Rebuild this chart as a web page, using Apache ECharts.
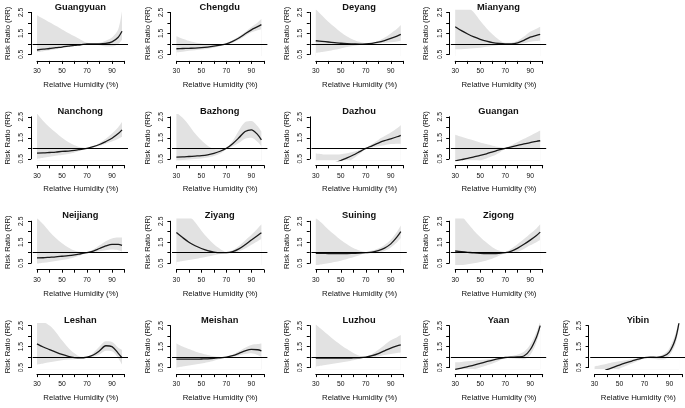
<!DOCTYPE html>
<html><head><meta charset="utf-8">
<script src="https://cdn.jsdelivr.net/npm/echarts@6/dist/echarts.min.js"></script>
<style>html,body{margin:0;padding:0;background:#fff}#c{width:685px;height:408px}</style>
</head><body><div id="c"></div>
<script>
// Relative humidity (%) sample points
const humidity = [30,35,40,45,50,55,60,65,70,75,80,85,90,95,98];
const xTickLabels = [30,50,70,90];
const yTickLabels = [0.5,1.5,2.5];
const xAxisTitle = 'Relative Humidity (%)';
const yAxisTitle = 'Risk Ratio (RR)';

const guangyuanRR   = [0.71,0.75,0.78,0.82,0.85,0.89,0.93,0.96,1.0,1.0,1.0,1.02,1.1,1.32,1.6];
const guangyuanLow  = [0.6,0.65,0.7,0.75,0.8,0.85,0.9,0.95,0.98,0.97,0.93,0.88,0.88,1.0,1.2];
const guangyuanHigh = [2.37,2.2,2.03,1.86,1.69,1.52,1.36,1.2,1.05,1.02,1.05,1.15,1.3,1.7,2.55];

const chengduRR   = [0.77,0.78,0.79,0.8,0.82,0.85,0.89,0.94,1.0,1.12,1.28,1.48,1.67,1.82,1.92];
const chengduLow  = [0.6,0.63,0.67,0.7,0.73,0.77,0.82,0.9,0.98,1.06,1.2,1.38,1.55,1.65,1.7];
const chengduHigh = [1.37,1.25,1.15,1.07,1.02,0.98,0.97,0.98,1.02,1.18,1.36,1.57,1.8,2.02,2.18];

const deyangRR   = [1.15,1.12,1.09,1.06,1.03,1.01,1.0,0.99,1.0,1.03,1.08,1.16,1.26,1.37,1.45];
const deyangLow  = [0.58,0.62,0.66,0.72,0.78,0.85,0.9,0.95,0.97,0.99,1.02,1.05,1.08,1.12,1.15];
const deyangHigh = [2.65,2.35,2.05,1.8,1.55,1.35,1.2,1.1,1.04,1.06,1.14,1.3,1.5,1.72,1.9];

const mianyangRR   = [1.82,1.63,1.47,1.33,1.22,1.13,1.06,1.02,1.0,1.0,1.05,1.17,1.32,1.41,1.45];
const mianyangLow  = [0.74,0.75,0.77,0.79,0.82,0.86,0.9,0.95,0.98,0.97,0.98,1.03,1.1,1.14,1.15];
const mianyangHigh = [2.7,2.7,2.7,2.5,2.1,1.75,1.45,1.2,1.05,1.06,1.15,1.35,1.58,1.72,1.82];

const nanchongRR   = [0.77,0.78,0.8,0.82,0.85,0.87,0.9,0.95,1.0,1.08,1.18,1.32,1.48,1.7,1.88];
const nanchongLow  = [0.5,0.55,0.6,0.65,0.68,0.73,0.8,0.9,0.98,1.05,1.12,1.22,1.32,1.45,1.55];
const nanchongHigh = [2.65,2.3,2.0,1.75,1.5,1.3,1.15,1.05,1.01,1.1,1.25,1.45,1.7,2.0,2.25];

const bazhongRR   = [0.58,0.59,0.61,0.63,0.65,0.69,0.76,0.86,1.0,1.22,1.5,1.8,1.88,1.65,1.4];
const bazhongLow  = [0.42,0.44,0.47,0.49,0.52,0.56,0.63,0.75,0.96,1.1,1.25,1.45,1.5,1.3,1.1];
const bazhongHigh = [2.7,2.45,2.1,1.7,1.38,1.12,0.97,0.95,1.04,1.35,1.85,2.25,2.3,2.05,1.8];

const dazhouRR   = [0.05,0.1,0.17,0.3,0.42,0.54,0.68,0.84,1.0,1.12,1.25,1.36,1.45,1.55,1.62];
const dazhouLow  = [0.1,0.1,0.1,0.15,0.25,0.35,0.52,0.73,0.97,1.04,1.1,1.15,1.2,1.22,1.22];
const dazhouHigh = [0.75,0.72,0.7,0.7,0.72,0.76,0.83,0.92,1.02,1.2,1.4,1.58,1.75,1.95,2.1];

const guanganRR   = [0.4,0.46,0.52,0.59,0.66,0.74,0.83,0.92,1.0,1.07,1.14,1.21,1.27,1.33,1.36];
const guanganLow  = [0.15,0.2,0.28,0.35,0.43,0.52,0.63,0.78,0.97,1.0,1.0,1.0,1.0,0.98,0.97];
const guanganHigh = [1.65,1.55,1.45,1.37,1.28,1.2,1.12,1.06,1.02,1.15,1.3,1.45,1.6,1.75,1.85];

const neijiangRR   = [0.75,0.76,0.78,0.8,0.83,0.86,0.9,0.95,1.0,1.08,1.2,1.32,1.4,1.4,1.35];
const neijiangLow  = [0.48,0.52,0.56,0.6,0.65,0.7,0.78,0.88,0.98,1.02,1.07,1.12,1.15,1.12,1.05];
const neijiangHigh = [2.65,2.35,2.0,1.7,1.45,1.25,1.1,1.03,1.01,1.15,1.35,1.55,1.68,1.72,1.72];

const ziyangRR   = [1.96,1.72,1.5,1.33,1.2,1.1,1.03,1.0,1.0,1.05,1.18,1.38,1.6,1.82,1.95];
const ziyangLow  = [0.55,0.6,0.65,0.7,0.76,0.82,0.88,0.94,0.97,0.99,1.06,1.2,1.38,1.55,1.65];
const ziyangHigh = [2.7,2.7,2.7,2.45,2.05,1.7,1.4,1.18,1.04,1.12,1.32,1.58,1.85,2.15,2.35];

const suiningRR   = [0.97,0.97,0.96,0.96,0.96,0.96,0.97,0.98,1.0,1.03,1.1,1.22,1.42,1.75,2.0];
const suiningLow  = [0.4,0.45,0.5,0.56,0.62,0.7,0.78,0.88,0.97,0.97,1.0,1.08,1.25,1.5,1.7];
const suiningHigh = [2.65,2.4,2.1,1.85,1.6,1.4,1.22,1.1,1.03,1.1,1.2,1.37,1.62,2.0,2.3];

const zigongRR   = [1.08,1.05,1.02,0.99,0.97,0.96,0.96,0.97,1.0,1.08,1.22,1.4,1.6,1.82,1.98];
const zigongLow  = [0.35,0.4,0.45,0.5,0.56,0.63,0.72,0.85,0.97,0.99,1.05,1.18,1.35,1.5,1.6];
const zigongHigh = [2.7,2.7,2.4,2.05,1.75,1.48,1.25,1.1,1.03,1.2,1.42,1.65,1.9,2.15,2.35];

const leshanRR   = [1.63,1.48,1.36,1.24,1.13,1.04,0.98,0.96,1.0,1.1,1.3,1.54,1.5,1.18,0.97];
const leshanLow  = [0.65,0.7,0.75,0.8,0.85,0.88,0.9,0.92,0.98,1.02,1.12,1.3,1.28,0.95,0.65];
const leshanHigh = [2.65,2.65,2.5,2.2,1.8,1.45,1.18,1.02,1.02,1.2,1.5,1.75,1.72,1.45,1.35];

const meishanRR   = [0.9,0.9,0.9,0.9,0.91,0.92,0.94,0.97,1.0,1.07,1.18,1.3,1.37,1.35,1.3];
const meishanLow  = [0.5,0.55,0.6,0.65,0.7,0.76,0.83,0.92,0.98,1.02,1.08,1.15,1.18,1.1,1.0];
const meishanHigh = [1.65,1.5,1.38,1.27,1.18,1.1,1.04,1.01,1.02,1.12,1.28,1.45,1.58,1.62,1.65];

const luzhouRR   = [0.95,0.95,0.95,0.95,0.95,0.95,0.96,0.97,1.0,1.07,1.17,1.3,1.43,1.53,1.58];
const luzhouLow  = [0.55,0.6,0.65,0.7,0.74,0.79,0.85,0.92,0.98,1.0,1.04,1.1,1.15,1.2,1.22];
const luzhouHigh = [2.55,2.3,2.05,1.8,1.58,1.38,1.2,1.07,1.02,1.15,1.35,1.58,1.8,1.95,2.05];

const yaanRR   = [0.42,0.48,0.55,0.62,0.7,0.78,0.86,0.93,0.98,1.0,1.01,1.05,1.35,1.95,2.5];
const yaanLow  = [0.2,0.25,0.3,0.4,0.5,0.6,0.7,0.83,0.96,0.95,0.92,0.9,1.1,1.7,2.3];
const yaanHigh = [0.75,0.77,0.8,0.83,0.86,0.89,0.92,0.96,1.0,1.05,1.12,1.25,1.6,2.2,2.7];

const yibinRR   = [0.15,0.27,0.4,0.51,0.62,0.72,0.81,0.9,0.98,1.0,0.99,1.03,1.22,1.85,2.65];
const yibinLow  = [0.0,0.05,0.2,0.32,0.45,0.58,0.7,0.82,0.95,0.95,0.9,0.88,1.05,1.6,2.4];
const yibinHigh = [0.55,0.62,0.68,0.75,0.8,0.85,0.9,0.95,1.0,1.02,1.02,1.12,1.4,2.1,2.7];

const panels = [
  {name:'Guangyuan', rr:guangyuanRR, low:guangyuanLow, high:guangyuanHigh, row:0, col:0},
  {name:'Chengdu',   rr:chengduRR,   low:chengduLow,   high:chengduHigh,   row:0, col:1},
  {name:'Deyang',    rr:deyangRR,    low:deyangLow,    high:deyangHigh,    row:0, col:2},
  {name:'Mianyang',  rr:mianyangRR,  low:mianyangLow,  high:mianyangHigh,  row:0, col:3},
  {name:'Nanchong',  rr:nanchongRR,  low:nanchongLow,  high:nanchongHigh,  row:1, col:0},
  {name:'Bazhong',   rr:bazhongRR,   low:bazhongLow,   high:bazhongHigh,   row:1, col:1},
  {name:'Dazhou',    rr:dazhouRR,    low:dazhouLow,    high:dazhouHigh,    row:1, col:2},
  {name:'Guangan',   rr:guanganRR,   low:guanganLow,   high:guanganHigh,   row:1, col:3},
  {name:'Neijiang',  rr:neijiangRR,  low:neijiangLow,  high:neijiangHigh,  row:2, col:0},
  {name:'Ziyang',    rr:ziyangRR,    low:ziyangLow,    high:ziyangHigh,    row:2, col:1},
  {name:'Suining',   rr:suiningRR,   low:suiningLow,   high:suiningHigh,   row:2, col:2},
  {name:'Zigong',    rr:zigongRR,    low:zigongLow,    high:zigongHigh,    row:2, col:3},
  {name:'Leshan',    rr:leshanRR,    low:leshanLow,    high:leshanHigh,    row:3, col:0},
  {name:'Meishan',   rr:meishanRR,   low:meishanLow,   high:meishanHigh,   row:3, col:1},
  {name:'Luzhou',    rr:luzhouRR,    low:luzhouLow,    high:luzhouHigh,    row:3, col:2},
  {name:'Yaan',      rr:yaanRR,      low:yaanLow,      high:yaanHigh,      row:3, col:3},
  {name:'Yibin',     rr:yibinRR,     low:yibinLow,     high:yibinHigh,     row:3, col:4}
];

const FONT = '"Liberation Sans", Arial, Helvetica, sans-serif';
const TXT = '#111';
const colStep = 139.4, rowStep = 104.4, x0Base = 37, y0Base = 12.4;
const pxX = 1.25, pxY = 21;
const usrX = [26.5, 102.8], usrY = [0.42, 2.58];

const grid = [], xAxis = [], yAxis = [], series = [], title = [];
const n = panels.length;
const pos = p => ({X0: x0Base + colStep * p.col, Y0: y0Base + rowStep * p.row});

// axis frames (30..100 x 0.5..2.5)
panels.forEach((p, i) => {
  const {X0, Y0} = pos(p);
  grid.push({left: X0, top: Y0, width: 70 * pxX, height: 2 * pxY});
  xAxis.push({
    gridIndex: i, type: 'value', min: 30, max: 100, interval: 10, offset: 6.5,
    axisLine: {show: true, lineStyle: {color: '#000', width: 1}},
    axisTick: {show: true, length: 3, lineStyle: {color: '#000', width: 1}},
    splitLine: {show: false},
    axisLabel: {fontSize: 6.8, fontFamily: FONT, color: TXT, margin: 7,
      formatter: v => xTickLabels.includes(v) ? String(v) : ''},
    name: xAxisTitle, nameLocation: 'middle', nameGap: 20,
    nameTextStyle: {fontSize: 7.8, fontFamily: FONT, color: TXT}
  });
  yAxis.push({
    gridIndex: i, type: 'value', min: 0.5, max: 2.5, interval: 0.5, offset: 6,
    axisLine: {show: true, lineStyle: {color: '#000', width: 1}},
    axisTick: {show: true, length: 3, lineStyle: {color: '#000', width: 1}},
    splitLine: {show: false},
    axisLabel: {fontSize: 6.8, fontFamily: FONT, color: TXT, margin: 6, rotate: 90,
      formatter: v => yTickLabels.some(t => Math.abs(t - v) < 1e-9) ? v.toFixed(1) : ''},
    name: yAxisTitle, nameLocation: 'middle', nameGap: 19, nameRotate: 90,
    nameTextStyle: {fontSize: 7.7, fontFamily: FONT, color: TXT}
  });
});

// data (plot) regions
panels.forEach((p, i) => {
  const {X0, Y0} = pos(p);
  const left = X0 - (30 - usrX[0]) * pxX;
  const top = Y0 - (usrY[1] - 2.5) * pxY;
  const width = (usrX[1] - usrX[0]) * pxX;
  const height = (usrY[1] - usrY[0]) * pxY;
  grid.push({left, top, width, height});
  const gi = n + i;
  xAxis.push({gridIndex: gi, type: 'value', min: usrX[0], max: usrX[1], show: false});
  yAxis.push({gridIndex: gi, type: 'value', min: usrY[0], max: usrY[1], show: false});
  title.push({
    text: p.name, left: left + width / 2, top: Y0 - 5.4,
    textAlign: 'center', textVerticalAlign: 'middle', padding: 0,
    textStyle: {fontSize: 9.3, fontWeight: 'bold', fontFamily: FONT, color: TXT}
  });
  const common = {type: 'line', xAxisIndex: gi, yAxisIndex: gi, symbol: 'none',
    smooth: 0.3, clip: true, silent: true, animation: false};
  series.push(Object.assign({}, common, {
    data: humidity.map((h, k) => [h, p.high[k]]),
    lineStyle: {opacity: 0}, areaStyle: {color: '#e2e2e2', opacity: 1, origin: 'start'}, z: 1
  }));
  series.push(Object.assign({}, common, {
    data: humidity.map((h, k) => [h, p.low[k]]),
    lineStyle: {opacity: 0}, areaStyle: {color: '#ffffff', opacity: 1, origin: 'start'}, z: 2
  }));
  series.push(Object.assign({}, common, {
    data: humidity.map((h, k) => [h, p.rr[k]]),
    lineStyle: {color: '#1a1a1a', width: 1.3}, z: 4,
    markLine: {silent: true, symbol: 'none', animation: false, label: {show: false},
      lineStyle: {color: '#000', width: 1, type: 'solid'}, data: [{yAxis: 1}]}
  }));
});

const chart = echarts.init(document.getElementById('c'), null, {renderer: 'canvas', width: 685, height: 408});
chart.setOption({backgroundColor: '#fff', animation: false, title, grid, xAxis, yAxis, series});
</script>
</body></html>
